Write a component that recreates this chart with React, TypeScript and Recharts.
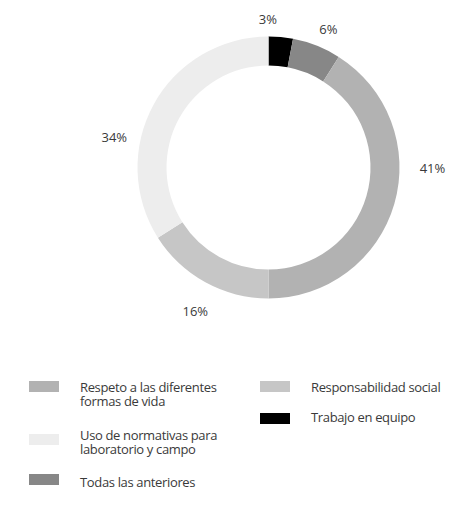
import React from "react";
import { PieChart, Pie, Cell } from "recharts";

// slices in drawing order, clockwise from 12 o'clock
const categories = [
  "Trabajo en equipo",
  "Todas las anteriores",
  "Respeto a las diferentes formas de vida",
  "Responsabilidad social",
  "Uso de normativas para laboratorio y campo",
];
const values = [3, 6, 41, 16, 34];
const colors = ["#000000", "#878787", "#b2b2b2", "#c6c6c6", "#ededed"];

// legend text as it wraps in the original
const legendLines = [
  ["Trabajo en equipo"],
  ["Todas las anteriores"],
  ["Respeto a las diferentes", "formas de vida"],
  ["Responsabilidad social"],
  ["Uso de normativas para", "laboratorio y campo"],
];

const data = categories.map((name, i) => ({ name, value: values[i] }));

const FONT = "'Open Sans', sans-serif";
const TEXT = "#3a3a3a";

// small nudges so the labels sit where the original put them
const LABEL_NUDGE = [
  [-15, 3],
  [4, 3],
  [18, -42],
  [0, 10],
  [-21, 43],
];

// legend placement: [slice index, left, text top, swatch top]
const LEGEND_LAYOUT = [
  [2, 29, 380, 381],
  [4, 29, 428, 434],
  [1, 29, 475, 474],
  [3, 260, 380, 381],
  [0, 260, 410, 413],
];

const RADIAN = Math.PI / 180;

function renderLabel(props: any) {
  const { cx, cy, midAngle, outerRadius, index, value } = props;
  const r = outerRadius + 21;
  const [dx, dy] = LABEL_NUDGE[index];
  const x = cx + r * Math.cos(-midAngle * RADIAN) + dx;
  const y = cy + r * Math.sin(-midAngle * RADIAN) + dy;
  return (
    <text
      x={x}
      y={y}
      fill={TEXT}
      fontFamily={FONT}
      fontSize={13}
      textAnchor="middle"
      dominantBaseline="central"
    >
      {value}%
    </text>
  );
}

export default function App() {
  return (
    <div
      style={{
        position: "absolute",
        left: 0,
        top: 0,
        width: 469,
        height: 508,
        background: "#fff",
      }}
    >
      <PieChart
        width={469}
        height={360}
        margin={{ top: 0, right: 0, bottom: 0, left: 0 }}
      >
        <Pie
          data={data}
          dataKey="value"
          nameKey="name"
          cx={268.5}
          cy={167.5}
          innerRadius={102}
          outerRadius={131}
          startAngle={90}
          endAngle={-270}
          stroke="none"
          label={renderLabel}
          labelLine={false}
          isAnimationActive={false}
        >
          {data.map((d, i) => (
            <Cell key={d.name} fill={colors[i]} />
          ))}
        </Pie>
      </PieChart>
      {LEGEND_LAYOUT.map(([idx, left, textTop, swatchTop]) => (
        <React.Fragment key={idx}>
          <div
            style={{
              position: "absolute",
              left,
              top: swatchTop,
              width: 30,
              height: 11,
              background: colors[idx],
            }}
          />
          <div
            style={{
              position: "absolute",
              left: left + 51,
              top: textTop,
              fontFamily: FONT,
              fontSize: 13,
              letterSpacing: -0.35,
              lineHeight: "14px",
              color: TEXT,
              whiteSpace: "nowrap",
            }}
          >
            {legendLines[idx].map((line) => (
              <div key={line}>{line}</div>
            ))}
          </div>
        </React.Fragment>
      ))}
    </div>
  );
}
